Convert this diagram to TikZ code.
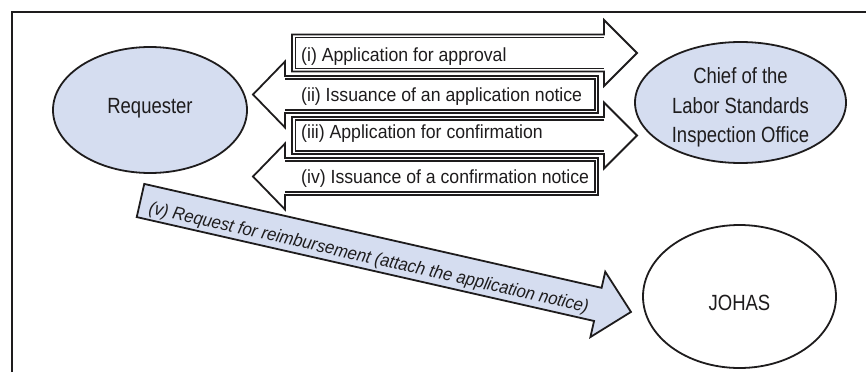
\documentclass[tikz,border=0pt]{standalone}
\usepackage{fontspec}
\setmainfont{Liberation Sans}[FakeStretch=0.93]
\newfontfamily\ellfont{Liberation Sans}[FakeStretch=0.84]
\usetikzlibrary{shapes.geometric}
\definecolor{lb}{RGB}{213,221,240}
\definecolor{ink}{RGB}{30,28,29}
\begin{document}
\begin{tikzpicture}[x=1pt,y=-1pt,line join=miter,
  blockarrow/.style={draw=ink,line width=1.8pt,fill=white},
  bluearrow/.style={draw=ink,line width=1.8pt,fill=lb},
  innerline/.style={draw=ink,line width=1.1pt},
  atext/.style={font=\fontsize{19}{22}\selectfont,anchor=base west,inner sep=0pt,text=ink},
  party/.style={ellipse,draw=ink,line width=1.8pt,inner sep=0pt},
  ptext/.style={font=\ellfont\fontsize{22}{26}\selectfont,anchor=base,inner sep=0pt,text=ink},
  frameline/.style={draw=ink,line width=2pt}]
\useasboundingbox (0,0) rectangle (866,372);
% frame
\draw[frameline] (12,372) -- (12,12) -- (866,12);
% parties
\node[party,fill=lb,minimum width=194pt,minimum height=126pt] (req) at (150,110) {};
\node[ptext] (reqt) at (150,113.5) {Requester};
\node[party,fill=lb,minimum width=211pt,minimum height=121pt] (chief) at (740.5,102.5) {};
\node[ptext] (chief1) at (740.5,83.5) {Chief of the};
\node[ptext] (chief2) at (740.5,113) {Labor Standards};
\node[ptext] (chief3) at (740.5,142.5) {Inspection Office};
\node[party,fill=white,minimum width=193pt,minimum height=143pt] (johas) at (739.5,296.5) {};
\node[ptext] (johast) at (739.5,310) {JOHAS};
% (i)
\draw[blockarrow] (292,34.5) -- (604,34.5) -- (604,20) -- (637,53) -- (604,86) -- (604,71.5) -- (292,71.5) -- cycle;
\draw[innerline] (604,37.5) -- (295.5,37.5) -- (295.5,68.5) -- (604,68.5);
\node[atext] (t1) at (301,61) {(i) Application for approval};
% (ii)
\draw[blockarrow] (598,76) -- (285,76) -- (285,61.5) -- (253,94.5) -- (285,127.5) -- (285,113) -- (598,113) -- cycle;
\draw[innerline] (285,79) -- (595,79) -- (595,110) -- (285,110);
\node[atext] (t2) at (301,101.5) {(ii) Issuance of an application notice};
% (iii)
\draw[blockarrow] (292,117) -- (604,117) -- (604,102.5) -- (637,135.5) -- (604,168.5) -- (604,154) -- (292,154) -- cycle;
\draw[innerline] (604,120) -- (295.5,120) -- (295.5,151) -- (604,151);
\node[atext] (t3) at (301,138) {(iii) Application for confirmation};
% (iv)
\draw[blockarrow] (598,158) -- (285,158) -- (285,143.5) -- (253,176.5) -- (285,209.5) -- (285,195) -- (598,195) -- cycle;
\draw[innerline] (285,161) -- (595,161) -- (595,192) -- (285,192);
\node[atext] (t4) at (301,183) {(iv) Issuance of a confirmation notice};
% (v)
\begin{scope}[shift={(140.5,200.5)},rotate=-12.8]
\draw[bluearrow] (0,-17) -- (469,-17) -- (469,-33.5) -- (503,0) -- (469,33.5) -- (469,17) -- (0,17) -- cycle;
\node[atext,transform shape,font=\fontsize{18}{20}\selectfont\itshape] (t5) at (10,10.5) {(v) Request for reimbursement (attach the application notice)};
\end{scope}
\end{tikzpicture}
\end{document}
